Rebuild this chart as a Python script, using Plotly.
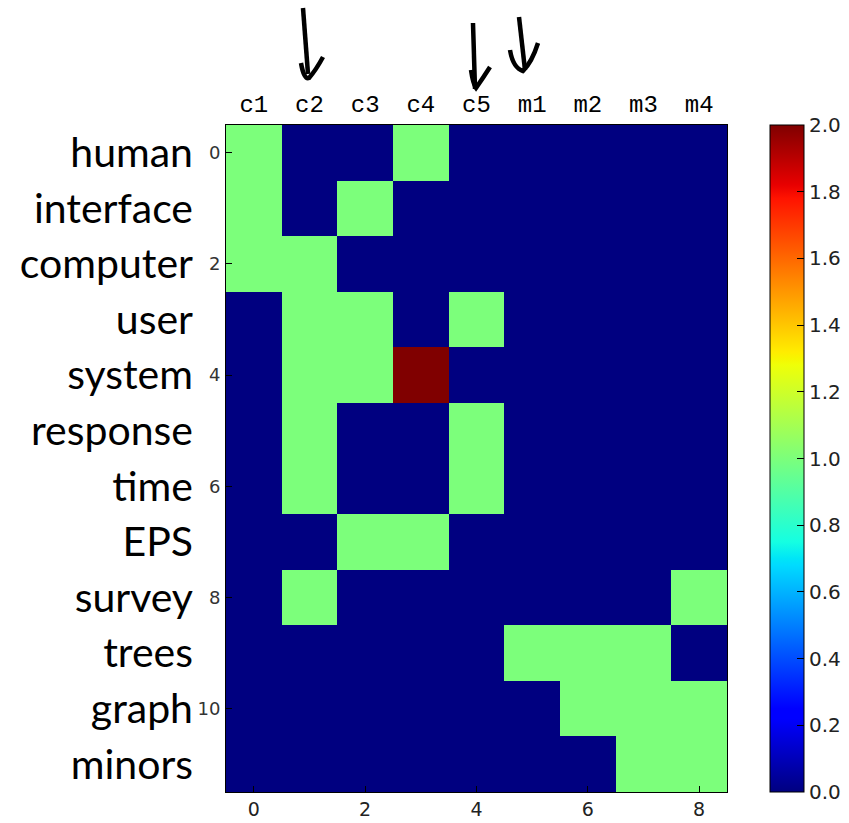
import numpy as np
import plotly.graph_objects as go

# ---------------- data ----------------
columns = ["c1", "c2", "c3", "c4", "c5", "m1", "m2", "m3", "m4"]
terms = ["human", "interface", "computer", "user", "system", "response",
         "time", "EPS", "survey", "trees", "graph", "minors"]
counts = [
    [1, 0, 0, 1, 0, 0, 0, 0, 0],
    [1, 0, 1, 0, 0, 0, 0, 0, 0],
    [1, 1, 0, 0, 0, 0, 0, 0, 0],
    [0, 1, 1, 0, 1, 0, 0, 0, 0],
    [0, 1, 1, 2, 0, 0, 0, 0, 0],
    [0, 1, 0, 0, 1, 0, 0, 0, 0],
    [0, 1, 0, 0, 1, 0, 0, 0, 0],
    [0, 0, 1, 1, 0, 0, 0, 0, 0],
    [0, 1, 0, 0, 0, 0, 0, 0, 1],
    [0, 0, 0, 0, 0, 1, 1, 1, 0],
    [0, 0, 0, 0, 0, 0, 1, 1, 1],
    [0, 0, 0, 0, 0, 0, 0, 1, 1],
]
x_ticks = [0, 2, 4, 6, 8]
y_ticks = [0, 2, 4, 6, 8, 10]
cbar_ticks = [0.0, 0.2, 0.4, 0.6, 0.8, 1.0, 1.2, 1.4, 1.6, 1.8, 2.0]

# ---------------- matplotlib "jet" colormap ----------------
red = [(0, 0), (0.35, 0), (0.66, 1), (0.89, 1), (1, 0.5)]
green = [(0, 0), (0.125, 0), (0.375, 1), (0.64, 1), (0.91, 0), (1, 0)]
blue = [(0, 0.5), (0.11, 1), (0.34, 1), (0.65, 0), (1, 0)]
stops = sorted(set([p for p, _ in red + green + blue]))


def chan(seg, t):
    return float(np.interp(t, [p for p, _ in seg], [v for _, v in seg]))


jet = [[t, "rgb(%d,%d,%d)" % (round(255 * chan(red, t)),
                               round(255 * chan(green, t)),
                               round(255 * chan(blue, t)))] for t in stops]

# ---------------- geometry (pixels) ----------------
W, H = 849, 823
L, R, T, B = 226, 727, 125, 792


def px(x):
    return (x - L) / (R - L)


def py(y):
    return (B - y) / (B - T)


fig = go.Figure()

fig.add_trace(go.Heatmap(
    z=counts, x=list(range(len(columns))), y=list(range(len(terms))),
    colorscale=jet, zmin=0, zmax=2, xaxis="x", yaxis="y",
    hoverinfo="skip",
    colorbar=dict(
        x=px(770), xanchor="left", y=0.5, yanchor="middle",
        len=1.0, lenmode="fraction", thickness=34, thicknessmode="pixels",
        xpad=0, ypad=0, outlinewidth=1, outlinecolor="black",
        ticks="inside", ticklen=7, tickcolor="black", tickwidth=1,
        tickvals=cbar_ticks, ticktext=["%.1f" % v for v in cbar_ticks],
        tickfont=dict(family="DejaVu Sans", size=20, color="#222222"),
    ),
))

# transparent copy carrying category names for the labelled axes
fig.add_trace(go.Heatmap(
    z=counts, x=columns, y=terms, xaxis="x2", yaxis="y2",
    showscale=False, opacity=0, hoverinfo="skip", colorscale=jet,
    zmin=0, zmax=2,
))

# hand-drawn arrows (decoration)
arrows = [
    [[(303, 8), (308, 74)],
     [(301, 63), (304, 80), (309, 78), (316, 70), (323, 57)]],
    [[(473, 23), (475, 89)],
     [(471, 70), (473, 84), (476, 88), (483, 78), (490, 67)]],
    [[(519, 17), (525, 70)],
     [(510, 50), (513, 68), (523, 71), (532, 62), (538, 43)]],
]
for shaft, head in arrows:
    for pts in (shaft, head):
        d = "M %f,%f" % (px(pts[0][0]), py(pts[0][1]))
        if len(pts) == 2:
            d += " L %f,%f" % (px(pts[1][0]), py(pts[1][1]))
        else:
            d += " Q %f,%f %f,%f" % (px(pts[1][0]), py(pts[1][1]),
                                     px(pts[2][0]), py(pts[2][1]))
            d += " Q %f,%f %f,%f" % (px(pts[3][0]), py(pts[3][1]),
                                     px(pts[4][0]), py(pts[4][1]))
        fig.add_shape(type="path", path=d, xref="paper", yref="paper",
                      line=dict(color="black", width=4.5))

axis_common = dict(showline=True, linecolor="black", linewidth=1,
                   showgrid=False, zeroline=False, automargin=False)

fig.update_layout(
    width=W, height=H,
    margin=dict(l=L, r=W - R, t=T, b=H - B, pad=0, autoexpand=False),
    paper_bgcolor="white", plot_bgcolor="white",
    showlegend=False,
    xaxis=dict(range=[-0.5, 8.5], tickvals=x_ticks, ticks="inside",
               ticklen=6, tickcolor="black", mirror=True, side="bottom",
               ticklabelstandoff=0,
               tickfont=dict(family="DejaVu Sans", size=19, color="#222222"),
               **axis_common),
    yaxis=dict(range=[11.5, -0.5], tickvals=y_ticks, ticks="inside",
               ticklen=6, tickcolor="black", mirror=True,
               ticklabelstandoff=1,
               tickfont=dict(family="DejaVu Sans", size=18, color="#333333"),
               **axis_common),
    xaxis2=dict(range=[-0.5, 8.5], overlaying="x", side="top",
                anchor="y2", type="category", ticks="",
                showgrid=False, zeroline=False, showline=False,
                automargin=False, ticklabelstandoff=7,
                tickfont=dict(family="Liberation Mono", size=24,
                              color="black")),
    yaxis2=dict(range=[11.5, -0.5], overlaying="y", side="left",
                anchor="x2", type="category", ticks="",
                showgrid=False, zeroline=False, showline=False,
                automargin=False, ticklabelstandoff=32,
                tickfont=dict(family="Lato", size=41, color="black")),
)

fig.write_html("out.html")
